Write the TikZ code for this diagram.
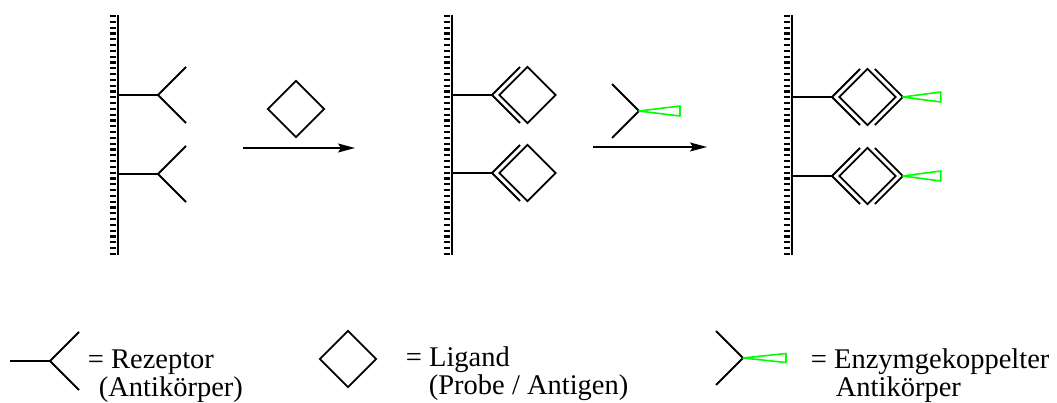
\documentclass[tikz,border=0pt]{standalone}
\usepackage{fontspec}
\setmainfont{Liberation Serif}
\usetikzlibrary{shapes.geometric,arrows.meta}

\begin{document}
\begin{tikzpicture}[x=1pt,y=-1pt,line width=1.8pt]

	\tikzstyle{ligand}=[draw=black,shape=diamond,aspect=1,
		inner sep=0pt,minimum width=57pt,minimum height=57pt]
	\tikzstyle{wall}=[draw=black,line width=1.6pt]
	\tikzstyle{hatch}=[draw=black,line width=5.5pt,
		dash pattern=on 2.2pt off 3.6pt]
	\tikzstyle{enzyme}=[draw=green,line width=1.6pt,
		line join=round]
	\tikzstyle{reaction}=[draw=black,line width=1.6pt,
		-{Stealth[length=17pt,width=9pt,inset=3pt]}]
	\tikzstyle{legendtext}=[anchor=base west,inner sep=0pt,
		font=\rmfamily\fontsize{28.5}{25}\selectfont]

	\useasboundingbox (0,0) rectangle (1057,403);

	% walls
	\draw[hatch] (113,15) -- (113,255);
	\draw[wall]  (118,15) -- (118,255);
	\draw[hatch] (447,15) -- (447,255);
	\draw[wall]  (452,15) -- (452,255);
	\draw[hatch] (787,15) -- (787,255);
	\draw[wall]  (792,15) -- (792,255);

	% panel 1: free receptors
	\coordinate (r11) at (158,95);
	\coordinate (r12) at (158,174);
	\draw (118,95) -- (r11) -- ++(28,-28) (r11) -- ++(28,28);
	\draw (118,174) -- (r12) -- ++(28,-28) (r12) -- ++(28,28);

	% first step
	\node[ligand] (lig1) at (296,109) {};
	\coordinate (a1s) at (243,148);
	\coordinate (a1e) at (355,148);
	\draw[reaction] (a1s) -- (a1e);

	% panel 2: receptor + ligand
	\coordinate (r21) at (492,95);
	\coordinate (r22) at (492,173);
	\draw (452,95) -- (r21) -- ++(28,-28) (r21) -- ++(28,28);
	\draw (452,173) -- (r22) -- ++(28,-28) (r22) -- ++(28,28);
	\node[ligand,anchor=west] (lig21) at ([xshift=6pt]r21) {};
	\node[ligand,anchor=west] (lig22) at ([xshift=6pt]r22) {};

	% second step
	\coordinate (e0) at (639,111);
	\draw (e0) -- ++(-27,-27) (e0) -- ++(-27,27);
	\draw[enzyme] (e0) -- ++(41,-5) -- ++(0,10) -- cycle;
	\coordinate (a2s) at (593,147);
	\coordinate (a2e) at (707,147);
	\draw[reaction] (a2s) -- (a2e);

	% panel 3: sandwich
	\coordinate (r31) at (832,97);
	\coordinate (r32) at (832,176);
	\draw (792,97) -- (r31) -- ++(28,-28) (r31) -- ++(28,28);
	\draw (792,176) -- (r32) -- ++(28,-28) (r32) -- ++(28,28);
	\node[ligand,anchor=west] (lig31) at ([xshift=6pt]r31) {};
	\node[ligand,anchor=west] (lig32) at ([xshift=6pt]r32) {};
	\coordinate (e31) at ([xshift=6pt]lig31.east);
	\coordinate (e32) at ([xshift=6pt]lig32.east);
	\draw (e31) -- ++(-28,-28) (e31) -- ++(-28,28);
	\draw (e32) -- ++(-28,-28) (e32) -- ++(-28,28);
	\draw[enzyme] (e31) -- ++(38,-5) -- ++(0,10) -- cycle;
	\draw[enzyme] (e32) -- ++(38,-5) -- ++(0,10) -- cycle;

	% legend
	\coordinate (rl) at (50,361);
	\draw (10,361) -- (rl) -- ++(29,-29) (rl) -- ++(29,29);
	\node[legendtext] (t1a) at (87,368) {= Rezeptor};
	\node[legendtext] (t1b) at (98,396) {(Antikörper)};

	\node[ligand] (ligl) at (348,359) {};
	\node[legendtext] (t2a) at (405,366) {= Ligand};
	\node[legendtext] (t2b) at (428,394) {(Probe / Antigen)};

	\coordinate (el) at (743,358);
	\draw (el) -- ++(-27,-27) (el) -- ++(-27,27);
	\draw[enzyme] (el) -- ++(43,-4.5) -- ++(0,9) -- cycle;
	\node[legendtext] (t3a) at (810,368) {= Enzymgekoppelter};
	\node[legendtext] (t3b) at (835,396) {Antikörper};

\end{tikzpicture}
\end{document}
